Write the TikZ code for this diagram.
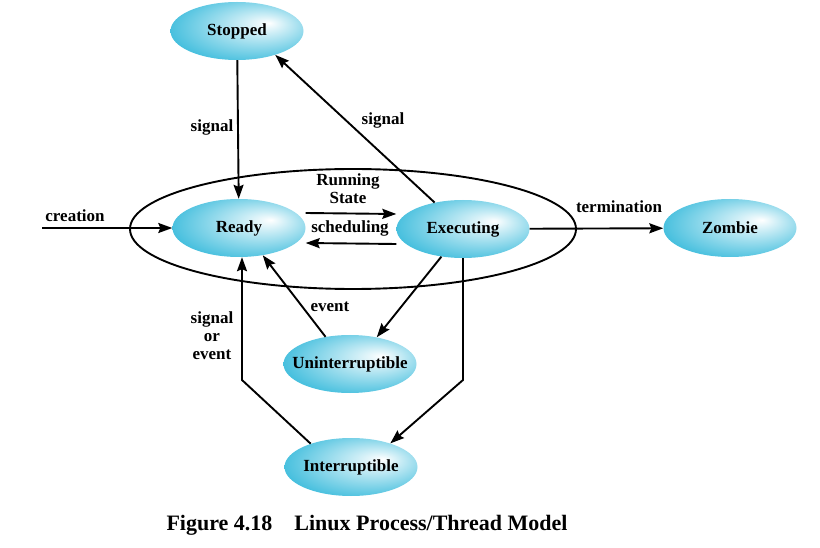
\documentclass[tikz,border=0pt]{standalone}
\usepackage{fontspec}
\setmainfont{Liberation Serif}
\usetikzlibrary{arrows.meta}
\usetikzlibrary{shapes, shapes.geometric}

\definecolor{nodecyan}{RGB}{26,176,214}
\pgfdeclareradialshading{statefill}{\pgfpoint{12bp}{7bp}}{%
  color(0bp)=(white);
  color(8bp)=(nodecyan!22);
  color(30bp)=(nodecyan!80);
  color(50bp)=(nodecyan)}

\begin{document}
\begin{tikzpicture}[x=1pt, y=-1pt, font=\bfseries\fontsize{17}{18}\selectfont,
  state/.style={ellipse, shading=statefill, draw=none, inner sep=0pt, minimum width=133pt, minimum height=58pt, label={center:#1}},
  arrow/.style={line width=1.9pt, -{Stealth[length=14pt, width=10pt, inset=2pt]}},
  tag/.style={align=center, inner sep=1pt}]

\useasboundingbox (0,0) rectangle (820,548);

\node[draw, ellipse, line width=1.9pt, minimum width=446pt, minimum height=120pt] (running) at (353,229) {};

\node[state=Stopped] (stopped) at (237,31) {};
\node[state=Ready] (ready) at (239,228) {};
\node[state=Executing] (executing) at (463,229) {};
\node[state=Zombie] (zombie) at (730,228) {};
\node[state=Uninterruptible] (uninterruptible) at (350,364) {};
\node[state=Interruptible] (interruptible) at (351,467) {};

\coordinate (start) at (42,228);
\coordinate (bendL) at (242,380);
\coordinate (bendR) at (463,380);

\draw[arrow] (start) -- (ready);
\draw[arrow] (stopped) -- (ready);
\draw[arrow] (executing.137) -- (stopped.-32);
\draw[arrow] ([yshift=15pt]ready.east) -- ([yshift=15pt]executing.west);
\draw[arrow] ([yshift=-15pt]executing.west) -- ([yshift=-15pt]ready.east);
\draw[arrow] (executing) -- (zombie);
\draw[arrow] (uninterruptible.132) -- (ready.-49);
\draw[arrow] (executing.232) -- (uninterruptible.45);
\draw[arrow] (executing.south) -- (bendR) -- (interruptible.31);
\draw[arrow] (interruptible.150) -- (bendL) -- (bendL |- ready.south);

\node[tag] (creation) at (75,216) {creation};
\node[tag] (signalA) at (212,127) {signal};
\node[tag] (signalB) at (383,120) {signal};
\node[tag] (runstate) at (348,189) {Running\\State};
\node[tag] (sched) at (350,228) {scheduling};
\node[tag] (term) at (619,207) {termination};
\node[tag] (event) at (330,307) {event};
\node[tag] (sigev) at (212,336) {signal\\or\\event};

\node[font=\bfseries\fontsize{22}{24}\selectfont] (caption) at (367,525) {Figure 4.18\quad Linux Process/Thread Model};

\end{tikzpicture}
\end{document}
